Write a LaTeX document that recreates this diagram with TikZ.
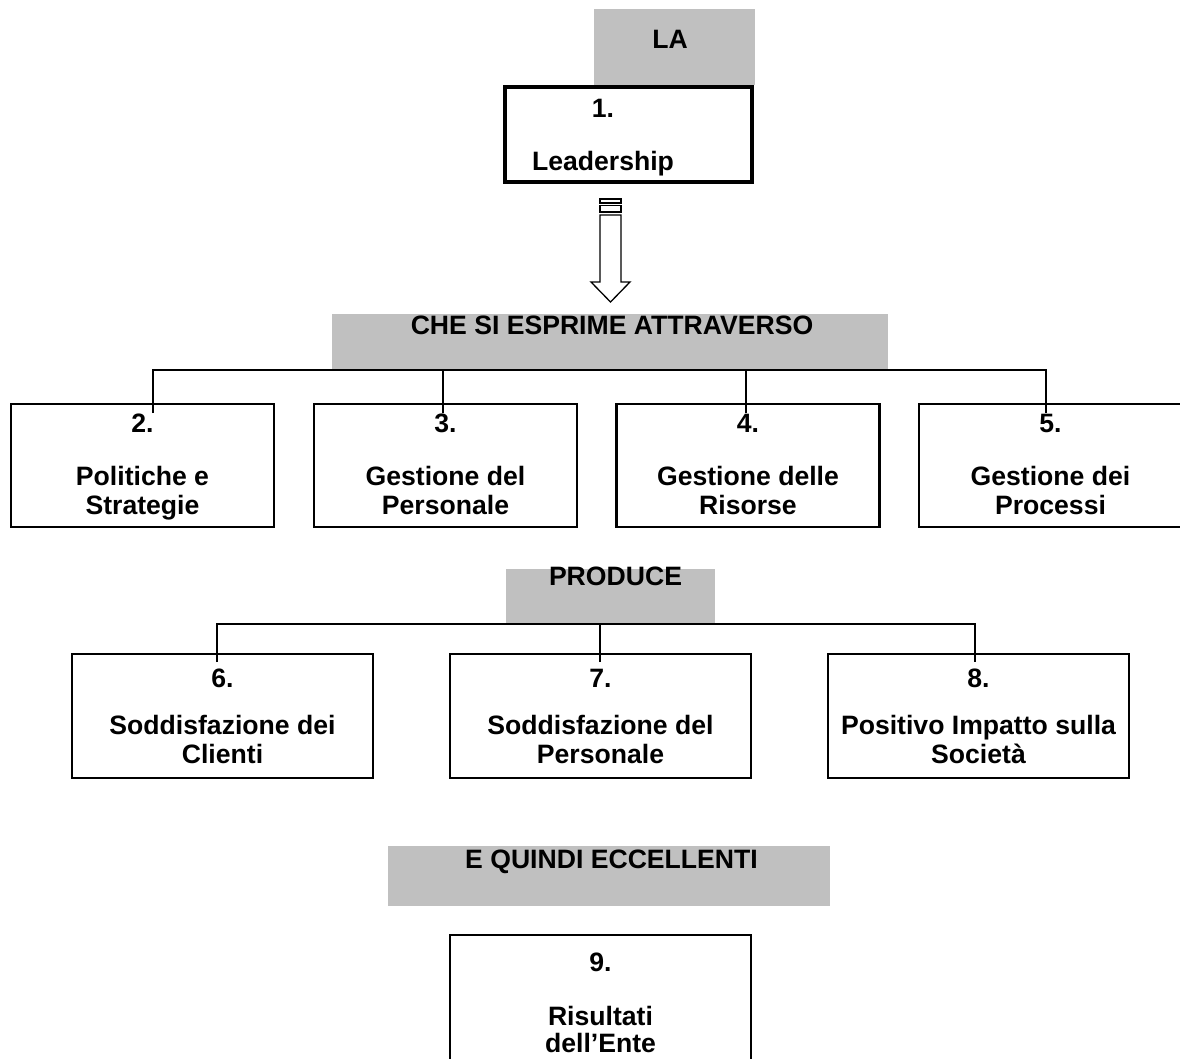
\documentclass[tikz,border=0pt]{standalone}
\usepackage{fontspec}
\setmainfont{Liberation Sans}
\definecolor{grayc}{HTML}{C0C0C0}
\begin{document}
\begin{tikzpicture}[x=1pt,y=-1pt,
  every node/.style={inner sep=0pt, outer sep=0pt},
  lbl/.style={font=\fontsize{26.6}{29}\selectfont\bfseries, align=center},
  graybox/.style={fill=grayc, draw=none, rectangle},
  stepbox/.style={draw=black, line width=2.3pt, rectangle, minimum width=263pt, minimum height=123pt},
  widebox/.style={draw=black, line width=2.3pt, rectangle, minimum width=301pt, minimum height=124pt},
  conn/.style={draw=black, line width=2pt},
  arrowline/.style={draw=black, line width=1.3pt, line join=miter}
]
\clip (0,0) rectangle (1180,1059);
\fill[white] (0,0) rectangle (1180,1059);

% LA
\node[graybox, minimum width=161pt, minimum height=76pt] (gLA) at (674.5,47) {};
\node[lbl, anchor=base] (tLA) at (670,49) {LA};

% Leadership
\node[draw=black, line width=4pt, rectangle, minimum width=247pt, minimum height=94.5pt] (b1) at (628.5,134.75) {};
\node[lbl, anchor=north] (t1) at (603,97.7) {\strut 1.\\[24pt]Leadership};

% striped block arrow
\coordinate (atop) at (610.5,199);
\draw[arrowline] ([xshift=-10.5pt]atop) rectangle ([xshift=10.5pt,yshift=-4pt]atop);
\draw[arrowline] ([xshift=-10.5pt,yshift=-6.5pt]atop) rectangle ([xshift=10.5pt,yshift=-13pt]atop);
\draw[arrowline] ([xshift=-10.5pt,yshift=-16pt]atop) -- ([xshift=10.5pt,yshift=-16pt]atop)
  -- ([xshift=10.5pt,yshift=-83pt]atop) -- ([xshift=19.5pt,yshift=-83pt]atop)
  -- ([yshift=-103pt]atop) -- ([xshift=-19.5pt,yshift=-83pt]atop)
  -- ([xshift=-10.5pt,yshift=-83pt]atop) -- cycle;

% CHE SI ESPRIME ATTRAVERSO
\node[graybox, minimum width=556pt, minimum height=56pt] (gCHE) at (610,342) {};
\node[lbl, anchor=base] (tCHE) at (612,334) {CHE SI ESPRIME ATTRAVERSO};

% row 2 boxes
\node[stepbox] (b2) at (142.5,465.5) {};
\node[stepbox] (b3) at (445.5,465.5) {};
\node[stepbox] (b4) at (748,465.5) {};
\node[stepbox] (b5) at (1050.5,465.5) {};
\node[lbl, anchor=north] (t2) at (142.5,411.7) {\strut 2.\\[24pt]Politiche e\\Strategie};
\node[lbl, anchor=north] (t3) at (445.5,411.7) {\strut 3.\\[24pt]Gestione del\\Personale};
\node[lbl, anchor=north] (t4) at (748,411.7) {\strut 4.\\[24pt]Gestione delle\\Risorse};
\node[lbl, anchor=north] (t5) at (1050.5,411.7) {\strut 5.\\[24pt]Gestione dei\\Processi};

\coordinate (d2) at (153,413);
\coordinate (d3) at (443,413);
\coordinate (d4) at (746,413);
\coordinate (d5) at (1046,413);
\draw[conn] (d2) -- (d2 |- gCHE.south) -- (d5 |- gCHE.south) -- (d5);
\draw[conn] (d3) -- (d3 |- gCHE.south);
\draw[conn] (d4) -- (d4 |- gCHE.south);

% PRODUCE
\node[graybox, minimum width=209pt, minimum height=55pt] (gPR) at (610.5,596.5) {};
\node[lbl, anchor=base] (tPR) at (615.5,585) {PRODUCE};

% row 3 boxes
\node[widebox] (b6) at (222.5,716) {};
\node[widebox] (b7) at (600.5,716) {};
\node[widebox] (b8) at (978.5,716) {};
\node[lbl, anchor=north] (t6) at (222.5,666.7) {\strut 6.\\[18pt]Soddisfazione dei\\Clienti};
\node[lbl, anchor=north] (t7) at (600.5,666.7) {\strut 7.\\[18pt]Soddisfazione del\\Personale};
\node[lbl, anchor=north] (t8) at (978.5,666.7) {\strut 8.\\[18pt]Positivo Impatto sulla\\Società};

\coordinate (d6) at (217,662);
\coordinate (d7) at (600,662);
\coordinate (d8) at (975,662);
\draw[conn] (d6) -- (d6 |- gPR.south) -- (d8 |- gPR.south) -- (d8);
\draw[conn] (d7) -- (d7 |- gPR.south);

% E QUINDI ECCELLENTI
\node[graybox, minimum width=442pt, minimum height=60pt] (gEQ) at (609,876) {};
\node[lbl, anchor=base] (tEQ) at (611.5,868) {E QUINDI ECCELLENTI};

% box 9
\node[draw=black, line width=2.3pt, rectangle, minimum width=301pt, minimum height=250pt] (b9) at (600.5,1060) {};
\node[lbl, anchor=north] (t9) at (600.5,950.7) {\strut 9.\\[25pt]Risultati\\[-2pt]dell’Ente};
\end{tikzpicture}
\end{document}
